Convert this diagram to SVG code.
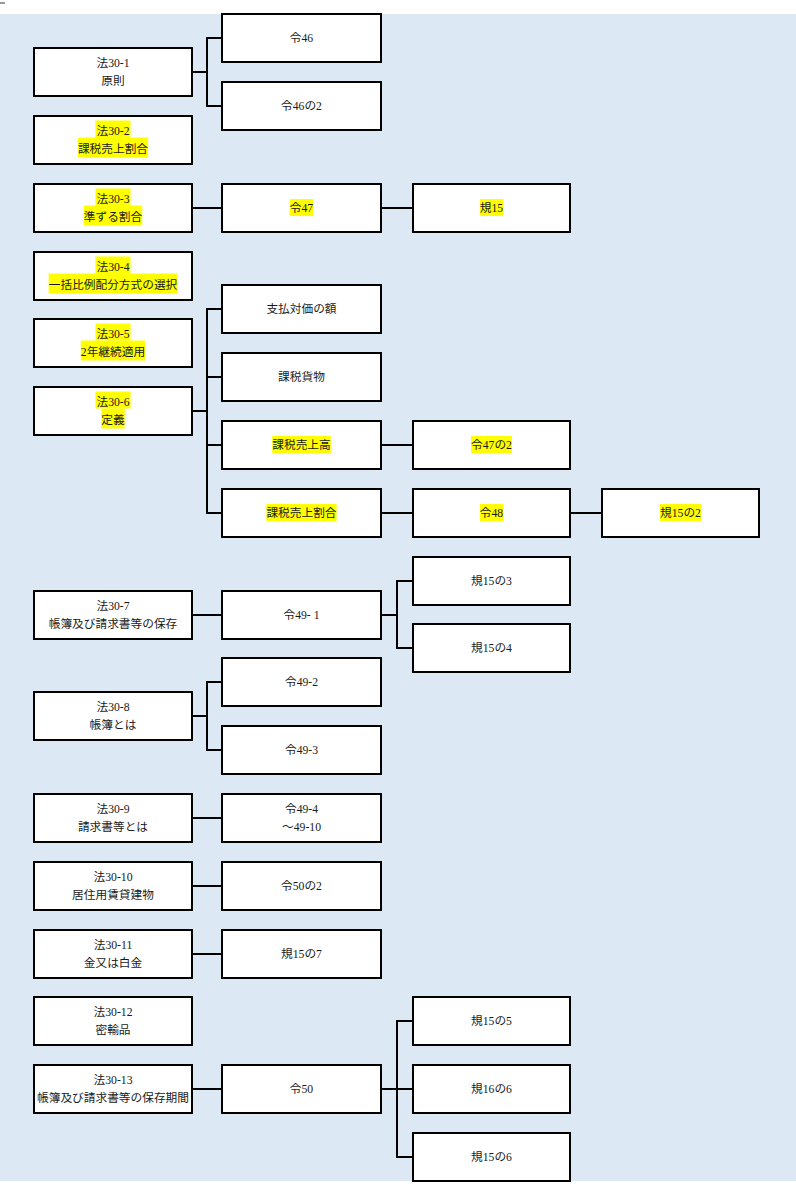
<svg xmlns="http://www.w3.org/2000/svg" width="796" height="1186" viewBox="0 0 796 1186">
<style>
.box{fill:#fff;stroke:#000;stroke-width:2}
.t{font-family:"Liberation Serif","Noto Sans CJK JP",serif;font-size:11.7px;fill:#1a1a1a;text-anchor:middle}
.hl{fill:#ffff00}
.c{fill:none;stroke:#000;stroke-width:2}
</style>
<rect x="0" y="0" width="796" height="1186" fill="#fff"/>
<rect x="0" y="14" width="796" height="1167" fill="#dde8f5"/>
<rect x="0" y="2" width="5" height="2" fill="#999"/>
<g id="connectors">
<path class="c" d="M192 72H207M222 38H207V106H222"/>
<path class="c" d="M192 208H222M381 208H413"/>
<path class="c" d="M192 411H207M222 309H207V513H222M207 377H222M207 445H222"/>
<path class="c" d="M381 445H413M381 513H413M570 513H602"/>
<path class="c" d="M192 615H222M381 615H397M413 581H397V648H413"/>
<path class="c" d="M192 716H207M222 682H207V750H222"/>
<path class="c" d="M192 818H222M192 886H222M192 954H222"/>
<path class="c" d="M192 1089H222M381 1089H413M413 1021H397V1157H413"/>
</g>
<g id="n-ho30-1"><rect class="box" x="34" y="48" width="158" height="48"/><text class="t" x="113" y="66.5">法30-1</text><text class="t" x="113" y="84.5">原則</text></g>
<g id="n-rei46"><rect class="box" x="222" y="14" width="159" height="48"/><text class="t" x="301.5" y="41.5">令46</text></g>
<g id="n-rei46-2"><rect class="box" x="222" y="82" width="159" height="48"/><text class="t" x="301.5" y="109.5">令46の2</text></g>
<g id="n-ho30-2"><rect class="box" x="34" y="116" width="158" height="48"/><rect class="hl" x="95.45" y="120.5" width="35.1" height="17"/><rect class="hl" x="77.9" y="137.5" width="70.2" height="20"/><text class="t" x="113" y="134.5">法30-2</text><text class="t" x="113" y="152.5">課税売上割合</text></g>
<g id="n-ho30-3"><rect class="box" x="34" y="184" width="158" height="48"/><rect class="hl" x="95.45" y="188.5" width="35.1" height="17"/><rect class="hl" x="83.75" y="205.5" width="58.5" height="20"/><text class="t" x="113" y="202.5">法30-3</text><text class="t" x="113" y="220.5">準ずる割合</text></g>
<g id="n-rei47"><rect class="box" x="222" y="184" width="159" height="48"/><rect class="hl" x="289.8" y="199" width="23.4" height="17"/><text class="t" x="301.5" y="211.5">令47</text></g>
<g id="n-ki15"><rect class="box" x="413" y="184" width="157" height="48"/><rect class="hl" x="479.8" y="199" width="23.4" height="17"/><text class="t" x="491.5" y="211.5">規15</text></g>
<g id="n-ho30-4"><rect class="box" x="34" y="252" width="158" height="48"/><rect class="hl" x="95.45" y="256.5" width="35.1" height="17"/><rect class="hl" x="48.65" y="273.5" width="128.7" height="20"/><text class="t" x="113" y="270.5">法30-4</text><text class="t" x="113" y="288.5">一括比例配分方式の選択</text></g>
<g id="n-ho30-5"><rect class="box" x="34" y="319" width="158" height="48"/><rect class="hl" x="95.45" y="323.5" width="35.1" height="17"/><rect class="hl" x="80.8" y="340.5" width="64.35" height="20"/><text class="t" x="113" y="337.5">法30-5</text><text class="t" x="113" y="355.5">2年継続適用</text></g>
<g id="n-shiharai"><rect class="box" x="222" y="285" width="159" height="48"/><text class="t" x="301.5" y="312.5">支払対価の額</text></g>
<g id="n-ho30-6"><rect class="box" x="34" y="387" width="158" height="48"/><rect class="hl" x="95.45" y="391.5" width="35.1" height="17"/><rect class="hl" x="101.3" y="408.5" width="23.4" height="20"/><text class="t" x="113" y="405.5">法30-6</text><text class="t" x="113" y="423.5">定義</text></g>
<g id="n-kazeikamotsu"><rect class="box" x="222" y="353" width="159" height="48"/><text class="t" x="301.5" y="380.5">課税貨物</text></g>
<g id="n-uriagedaka"><rect class="box" x="222" y="421" width="159" height="48"/><rect class="hl" x="272.25" y="436" width="58.5" height="17"/><text class="t" x="301.5" y="448.5">課税売上高</text></g>
<g id="n-rei47-2"><rect class="box" x="413" y="421" width="157" height="48"/><rect class="hl" x="471" y="436" width="40.95" height="17"/><text class="t" x="491.5" y="448.5">令47の2</text></g>
<g id="n-uriagewariai"><rect class="box" x="222" y="489" width="159" height="48"/><rect class="hl" x="266.4" y="504" width="70.2" height="17"/><text class="t" x="301.5" y="516.5">課税売上割合</text></g>
<g id="n-rei48"><rect class="box" x="413" y="489" width="157" height="48"/><rect class="hl" x="479.8" y="504" width="23.4" height="17"/><text class="t" x="491.5" y="516.5">令48</text></g>
<g id="n-ki15-2"><rect class="box" x="602" y="489" width="157" height="48"/><rect class="hl" x="660" y="504" width="40.95" height="17"/><text class="t" x="680.5" y="516.5">規15の2</text></g>
<g id="n-ki15-3"><rect class="box" x="413" y="557" width="157" height="48"/><text class="t" x="491.5" y="584.5">規15の3</text></g>
<g id="n-ho30-7"><rect class="box" x="34" y="591" width="158" height="48"/><text class="t" x="113" y="609.5">法30-7</text><text class="t" x="113" y="627.5">帳簿及び請求書等の保存</text></g>
<g id="n-rei49-1"><rect class="box" x="222" y="591" width="159" height="48"/><text class="t" x="301.5" y="618.5" xml:space="preserve">令49- 1</text></g>
<g id="n-ki15-4"><rect class="box" x="413" y="624" width="157" height="48"/><text class="t" x="491.5" y="651.5">規15の4</text></g>
<g id="n-rei49-2"><rect class="box" x="222" y="658" width="159" height="48"/><text class="t" x="301.5" y="685.5">令49-2</text></g>
<g id="n-ho30-8"><rect class="box" x="34" y="692" width="158" height="48"/><text class="t" x="113" y="710.5">法30-8</text><text class="t" x="113" y="728.5">帳簿とは</text></g>
<g id="n-rei49-3"><rect class="box" x="222" y="726" width="159" height="48"/><text class="t" x="301.5" y="753.5">令49-3</text></g>
<g id="n-ho30-9"><rect class="box" x="34" y="794" width="158" height="48"/><text class="t" x="113" y="812.5">法30-9</text><text class="t" x="113" y="830.5">請求書等とは</text></g>
<g id="n-rei49-4"><rect class="box" x="222" y="794" width="159" height="48"/><text class="t" x="301.5" y="812.5">令49-4</text><text class="t" x="301.5" y="830.5">～49-10</text></g>
<g id="n-ho30-10"><rect class="box" x="34" y="862" width="158" height="48"/><text class="t" x="113" y="880.5">法30-10</text><text class="t" x="113" y="898.5">居住用賃貸建物</text></g>
<g id="n-rei50-2"><rect class="box" x="222" y="862" width="159" height="48"/><text class="t" x="301.5" y="889.5">令50の2</text></g>
<g id="n-ho30-11"><rect class="box" x="34" y="930" width="158" height="48"/><text class="t" x="113" y="948.5">法30-11</text><text class="t" x="113" y="966.5">金又は白金</text></g>
<g id="n-ki15-7"><rect class="box" x="222" y="930" width="159" height="48"/><text class="t" x="301.5" y="957.5">規15の7</text></g>
<g id="n-ho30-12"><rect class="box" x="34" y="997" width="158" height="48"/><text class="t" x="113" y="1015.5">法30-12</text><text class="t" x="113" y="1033.5">密輸品</text></g>
<g id="n-ki15-5"><rect class="box" x="413" y="997" width="157" height="48"/><text class="t" x="491.5" y="1024.5">規15の5</text></g>
<g id="n-ho30-13"><rect class="box" x="34" y="1065" width="158" height="48"/><text class="t" x="113" y="1083.5">法30-13</text><text class="t" x="113" y="1101.5">帳簿及び請求書等の保存期間</text></g>
<g id="n-rei50"><rect class="box" x="222" y="1065" width="159" height="48"/><text class="t" x="301.5" y="1092.5">令50</text></g>
<g id="n-ki16-6"><rect class="box" x="413" y="1065" width="157" height="48"/><text class="t" x="491.5" y="1092.5">規16の6</text></g>
<g id="n-ki15-6"><rect class="box" x="413" y="1133" width="157" height="48"/><text class="t" x="491.5" y="1160.5">規15の6</text></g>
</svg>
